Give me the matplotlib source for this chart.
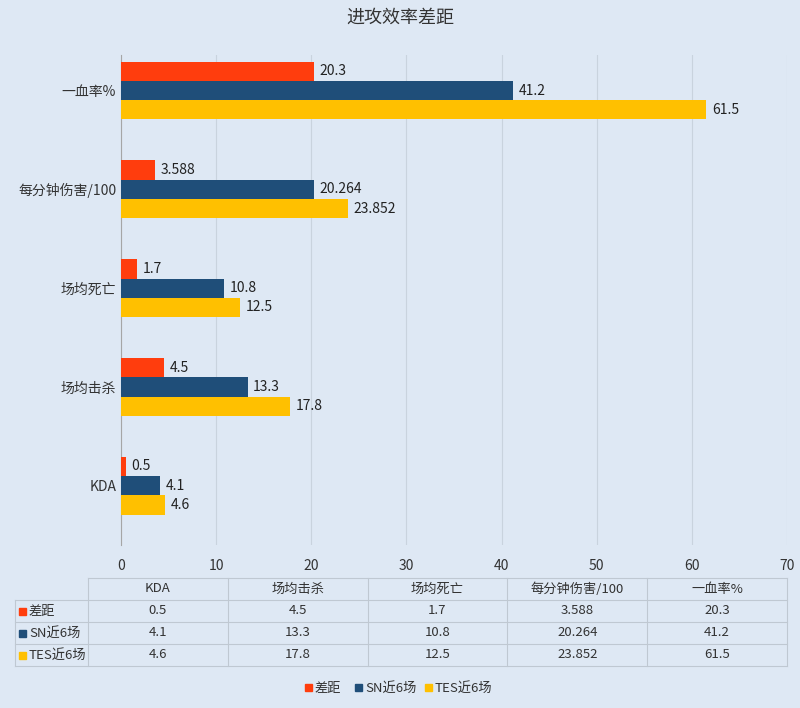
import numpy as np
import matplotlib
matplotlib.use('Agg')
import matplotlib.pyplot as plt

plt.rcParams['font.family'] = ['Noto Sans CJK SC', 'DejaVu Sans']

categories = ['KDA', '场均击杀', '场均死亡', '每分钟伤害/100', '一血率%']
series_names = ['差距', 'SN近6场', 'TES近6场']
gap = [0.5, 4.5, 1.7, 3.588, 20.3]
sn = [4.1, 13.3, 10.8, 20.264, 41.2]
tes = [4.6, 17.8, 12.5, 23.852, 61.5]
labels_gap = ['0.5', '4.5', '1.7', '3.588', '20.3']
labels_sn = ['4.1', '13.3', '10.8', '20.264', '41.2']
labels_tes = ['4.6', '17.8', '12.5', '23.852', '61.5']

colors = ['#FF3D0D', '#1F4E79', '#FFC000']
bg = '#DEE8F4'

W, H = 800, 708
fig = plt.figure(figsize=(W / 100, H / 100), dpi=100, facecolor=bg)

ax = fig.add_axes([121 / W, 1 - 545 / H, 666 / W, 490 / H], facecolor=bg)
y = np.arange(len(categories))
h = 0.195
for vals, labs, c, off in [(gap, labels_gap, colors[0], h), (sn, labels_sn, colors[1], 0), (tes, labels_tes, colors[2], -h)]:
    ax.barh(y + off, vals, height=h, color=c, zorder=3)
    for yi, v, t in zip(y, vals, labs):
        ax.text(v + 0.6, yi + off, t, va='center', ha='left', fontsize=10, color='#222222')
ax.set_xlim(0, 70)
ax.set_ylim(-0.6, 4.36)
ax.set_xticks(range(0, 71, 10))
ax.set_yticks(y)
ax.set_yticklabels(categories, fontsize=10)
ax.tick_params(length=0, labelsize=10, colors='#333333')
ax.tick_params(axis='x', pad=10)
ax.grid(axis='x', color='#C9D3DE', lw=0.8, zorder=0)
for s in ['top', 'right', 'bottom']:
    ax.spines[s].set_visible(False)
ax.spines['left'].set_color('#A6A6A6')

fig.text(0.5, 1 - 18 / H, '进攻效率差距', ha='center', va='center', fontsize=13, color='#333333')

# data table
tb = fig.add_axes([0, 0, 1, 1], facecolor='none')
tb.set_xlim(0, W)
tb.set_ylim(H, 0)
tb.axis('off')
xs = [88 + 139.8 * i for i in range(6)]
ys = [578, 600, 622, 644, 666]
lc = '#BFC8D2'
for yy in ys:
    tb.plot([15 if yy > 578 else 88, 787], [yy, yy], color=lc, lw=0.8)
for xx in xs:
    tb.plot([xx, xx], [578, 666], color=lc, lw=0.8)
tb.plot([15, 15], [600, 666], color=lc, lw=0.8)
for i, cat in enumerate(categories):
    tb.text((xs[i] + xs[i + 1]) / 2, 589, cat, ha='center', va='center', fontsize=9.5, color='#333333')
rows = [labels_gap, labels_sn, labels_tes]
for r, (name, labs) in enumerate(zip(series_names, rows)):
    yc = (ys[r + 1] + ys[r + 2]) / 2
    tb.add_patch(plt.Rectangle((19, yc - 3.5), 7, 7, color=colors[r]))
    tb.text(29, yc, name, ha='left', va='center', fontsize=9.5, color='#333333')
    for i, t in enumerate(labs):
        tb.text((xs[i] + xs[i + 1]) / 2, yc, t, ha='center', va='center', fontsize=9.5, color='#333333')

# legend
lx = [305, 355, 425]
for i, name in enumerate(series_names):
    tb.add_patch(plt.Rectangle((lx[i], 684), 7, 7, color=colors[i]))
    tb.text(lx[i] + 10, 688, name, ha='left', va='center', fontsize=9.5, color='#333333')

fig.savefig('out.png', dpi=100, facecolor=bg)
